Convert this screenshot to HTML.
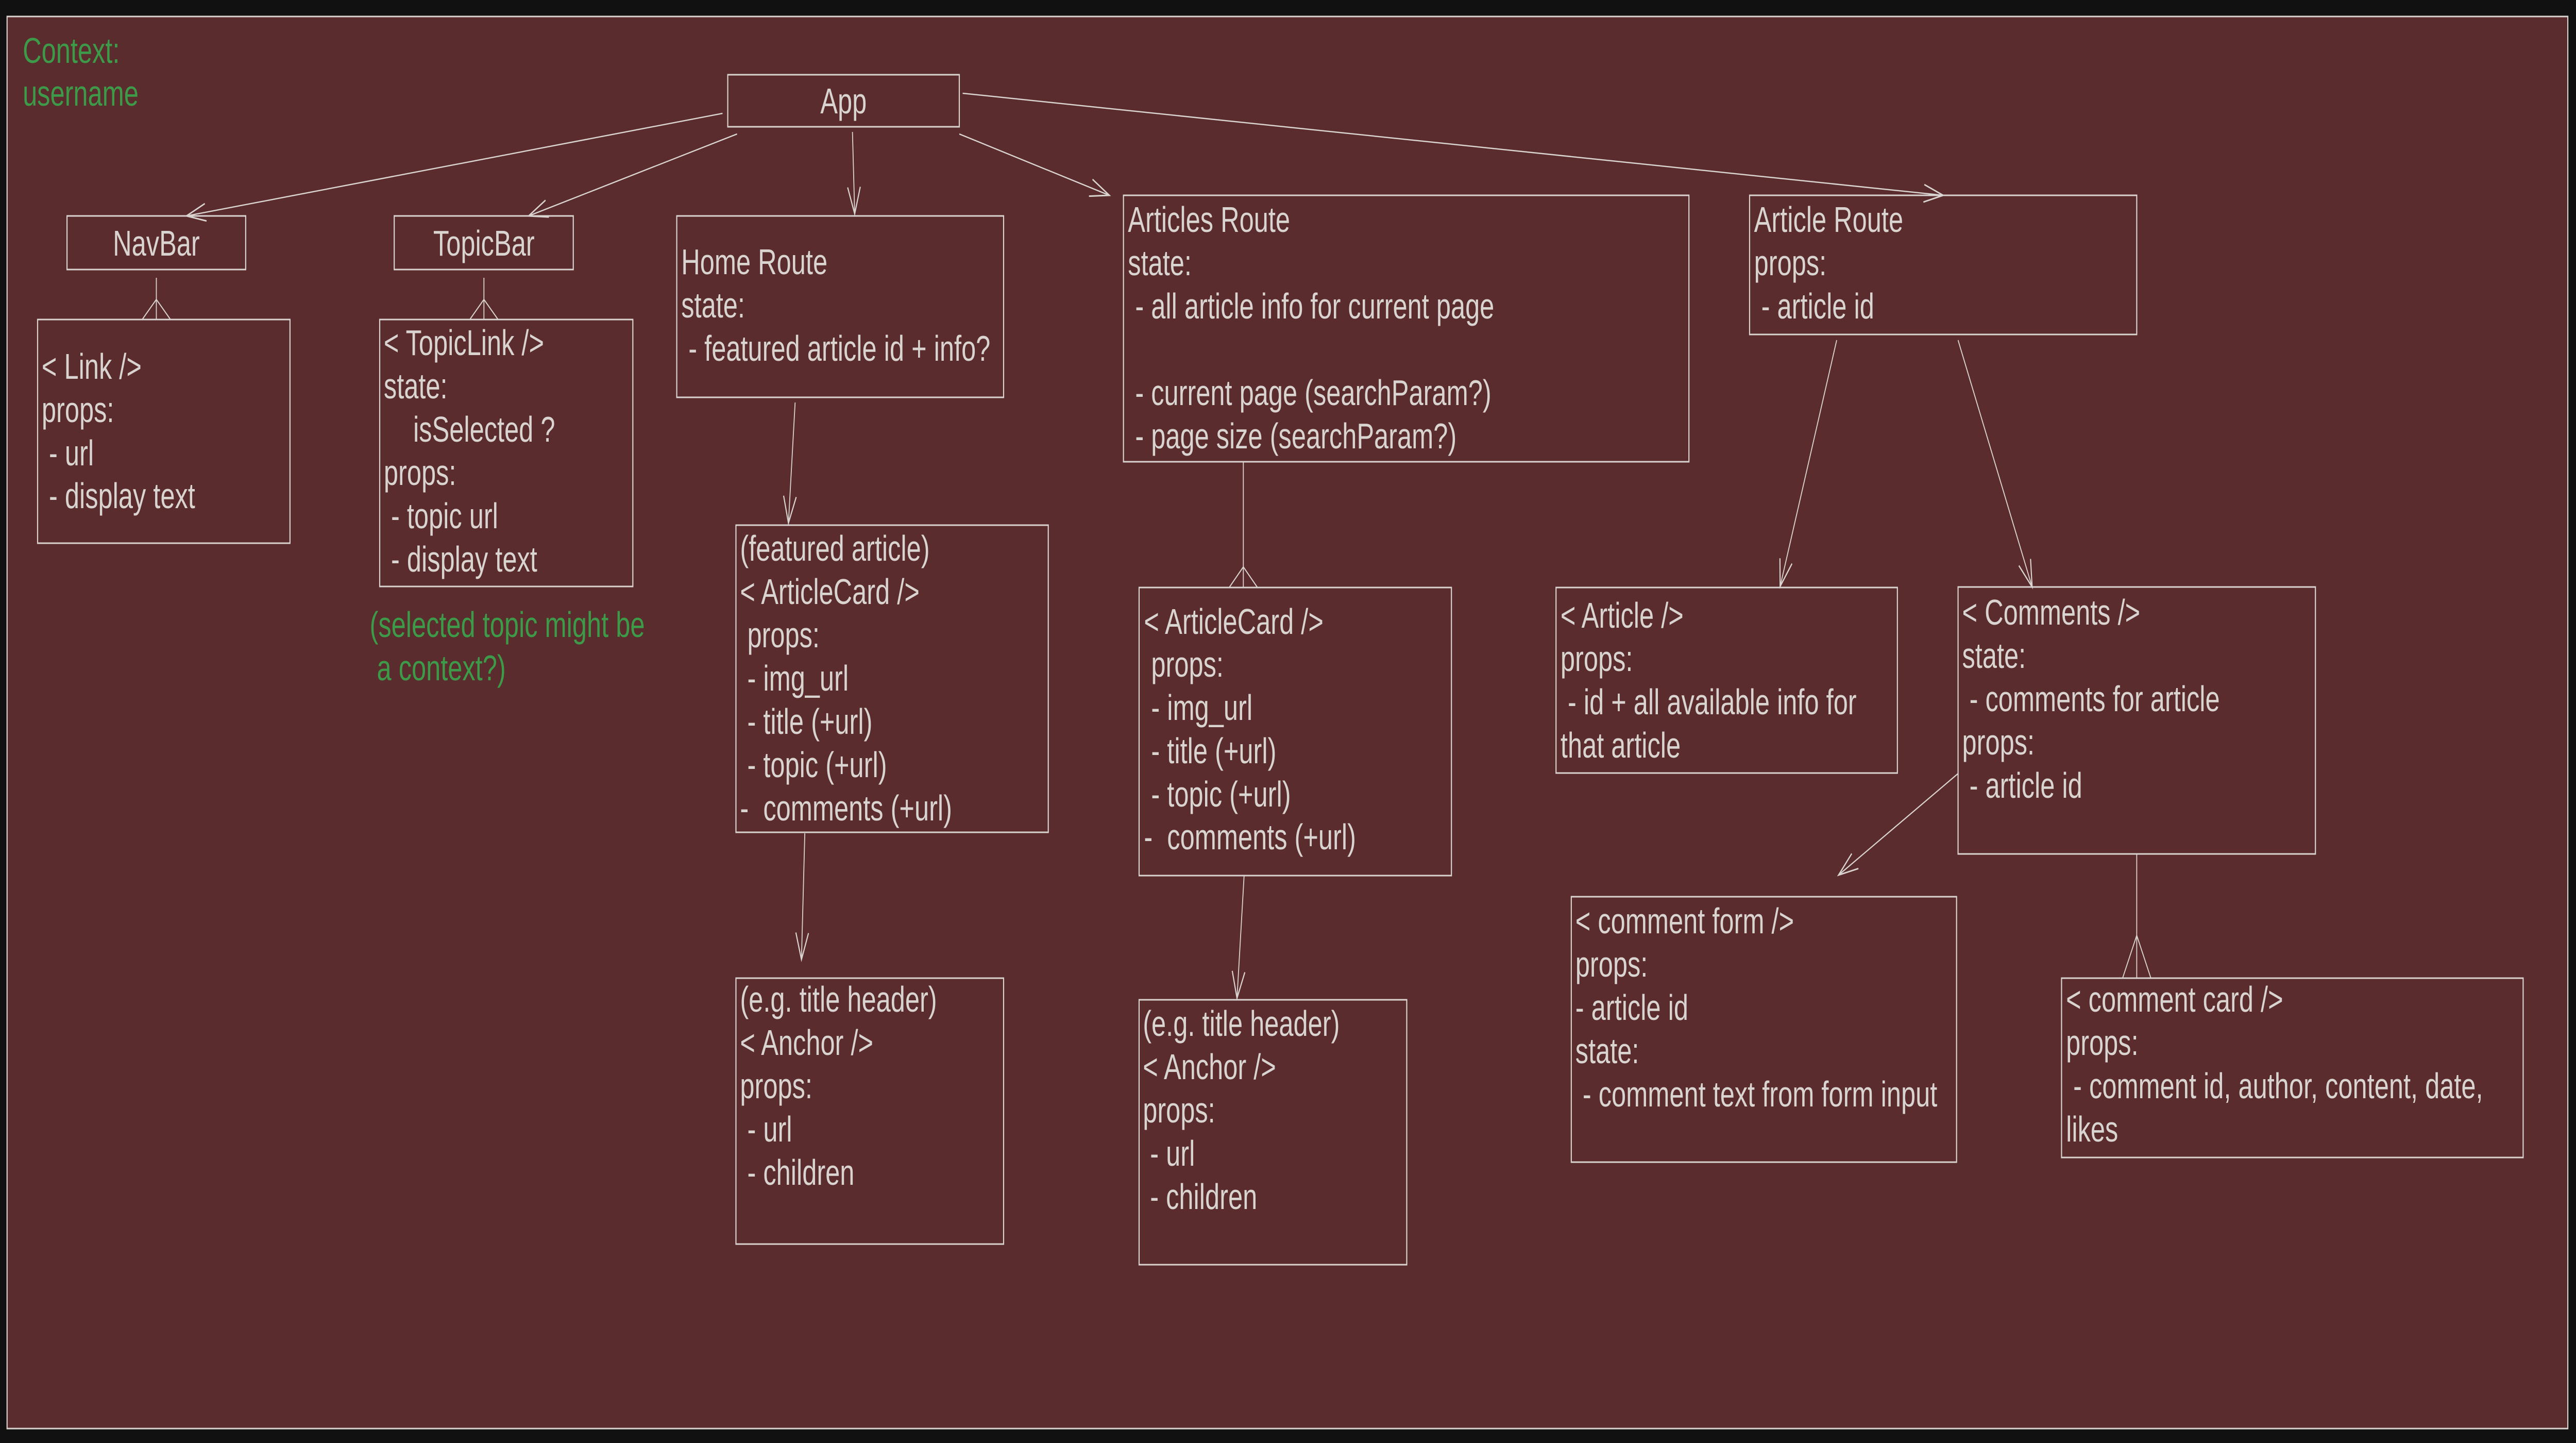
<!DOCTYPE html>
<html><head><meta charset="utf-8"><style>
html,body{margin:0;padding:0;background:#111111;width:100%;height:100%;overflow:hidden;}
svg{display:block;position:fixed;left:0;top:0;width:100vw;height:100vh;}
text{font-family:"Liberation Sans",Arial,sans-serif;font-size:70px;fill:#d9d4d0;white-space:pre;}
.g{fill:#3d9a48;}
</style></head><body>
<svg viewBox="0 0 6920 2800" preserveAspectRatio="none" xmlns="http://www.w3.org/2000/svg">
<defs>
<marker id="a" markerUnits="userSpaceOnUse" markerWidth="80" markerHeight="60" viewBox="-60 -30 80 60" refX="0" refY="0" orient="auto">
<path d="M-52,-17 L0,0 L-52,17" fill="none" stroke="#d9d4d0" stroke-width="3"/>
</marker>
</defs>
<rect x="0" y="0" width="6920" height="2800" fill="#111111"/>
<rect x="19" y="32" width="6879" height="2740" fill="#5a2c2d" stroke="#d9d4d0" stroke-width="3"/>
<g fill="none" stroke="#d9d4d0" stroke-width="3">
<rect x="1955" y="145" width="622" height="101"/>
<rect x="180" y="419" width="480" height="104"/>
<rect x="1059" y="419" width="481" height="104"/>
<rect x="101" y="620" width="678" height="434"/>
<rect x="1020" y="620" width="680" height="518"/>
<rect x="1818" y="419" width="878" height="352"/>
<rect x="3018" y="379" width="1519" height="517"/>
<rect x="4700" y="379" width="1040" height="270"/>
<rect x="1977" y="1019" width="839" height="596"/>
<rect x="3060" y="1140" width="839" height="559"/>
<rect x="1977" y="1898" width="719" height="516"/>
<rect x="3060" y="1940" width="719" height="514"/>
<rect x="4180" y="1140" width="917" height="360"/>
<rect x="5260" y="1139" width="960" height="518"/>
<rect x="4221" y="1740" width="1035" height="515"/>
<rect x="5538" y="1898" width="1240" height="348"/>
</g>
<g fill="none" stroke="#d9d4d0" stroke-width="2.5">
<line x1="1941" y1="220" x2="501" y2="419" marker-end="url(#a)"/>
<line x1="1980" y1="260" x2="1420" y2="419" marker-end="url(#a)"/>
<line x1="2290" y1="256" x2="2296" y2="415" marker-end="url(#a)"/>
<line x1="2577" y1="260" x2="2980" y2="379" marker-end="url(#a)"/>
<line x1="2586" y1="181" x2="5220" y2="379" marker-end="url(#a)"/>
<line x1="2136" y1="781" x2="2118" y2="1015" marker-end="url(#a)"/>
<line x1="2162" y1="1617" x2="2153" y2="1862" marker-end="url(#a)"/>
<line x1="3342" y1="1700" x2="3323" y2="1937" marker-end="url(#a)"/>
<line x1="4934" y1="660" x2="4782" y2="1138" marker-end="url(#a)"/>
<line x1="5260" y1="660" x2="5459" y2="1139" marker-end="url(#a)"/>
<line x1="5260" y1="1501" x2="4939" y2="1698" marker-end="url(#a)"/>
<path d="M420,539 V620 M382,620 L420,581 L458,620"/>
<path d="M1300,539 V620 M1262,620 L1300,581 L1338,620"/>
<path d="M3340,896 V1140 M3302,1140 L3340,1100 L3378,1140"/>
<path d="M5740,1657 V1898 M5702,1898 L5740,1815 L5778,1898"/>
</g>
<text class="g" x="61" y="122">Context:</text>
<text class="g" x="61" y="205">username</text>
<text x="2266" y="220" text-anchor="middle">App</text>
<text x="420" y="496" text-anchor="middle">NavBar</text>
<text x="1300" y="496" text-anchor="middle">TopicBar</text>
<text x="112" y="735">&lt; Link /&gt;</text>
<text x="112" y="819">props:</text>
<text x="112" y="903">&#160;- url</text>
<text x="112" y="986">&#160;- display text</text>
<text x="1031" y="689">&lt; TopicLink /&gt;</text>
<text x="1031" y="773">state:</text>
<text x="1110" y="857">isSelected ?</text>
<text x="1031" y="941">props:</text>
<text x="1031" y="1025">&#160;- topic url</text>
<text x="1031" y="1109">&#160;- display text</text>
<text class="g" x="993" y="1236">(selected topic might be</text>
<text class="g" x="993" y="1320">&#160;a context?)</text>
<text x="1830" y="532">Home Route</text>
<text x="1830" y="616">state:</text>
<text x="1830" y="700">&#160;- featured article id + info?</text>
<text x="3030" y="450">Articles Route</text>
<text x="3030" y="534">state:</text>
<text x="3030" y="618">&#160;- all article info for current page</text>
<text x="3030" y="786">&#160;- current page (searchParam?)</text>
<text x="3030" y="870">&#160;- page size (searchParam?)</text>
<text x="4712" y="450">Article Route</text>
<text x="4712" y="534">props:</text>
<text x="4712" y="618">&#160;- article id</text>
<text x="1988" y="1088">(featured article)</text>
<text x="1988" y="1172">&lt; ArticleCard /&gt;</text>
<text x="1988" y="1256">&#160;props:</text>
<text x="1988" y="1340">&#160;- img_url</text>
<text x="1988" y="1424">&#160;- title (+url)</text>
<text x="1988" y="1508">&#160;- topic (+url)</text>
<text x="1988" y="1592">-&#160;&#160;comments (+url)</text>
<text x="3073" y="1230">&lt; ArticleCard /&gt;</text>
<text x="3073" y="1313">&#160;props:</text>
<text x="3073" y="1397">&#160;- img_url</text>
<text x="3073" y="1481">&#160;- title (+url)</text>
<text x="3073" y="1565">&#160;- topic (+url)</text>
<text x="3073" y="1648">-&#160;&#160;comments (+url)</text>
<text x="1988" y="1963">(e.g. title header)</text>
<text x="1988" y="2047">&lt; Anchor /&gt;</text>
<text x="1988" y="2131">props:</text>
<text x="1988" y="2215">&#160;- url</text>
<text x="1988" y="2299">&#160;- children</text>
<text x="3070" y="2010">(e.g. title header)</text>
<text x="3070" y="2094">&lt; Anchor /&gt;</text>
<text x="3070" y="2178">props:</text>
<text x="3070" y="2262">&#160;- url</text>
<text x="3070" y="2346">&#160;- children</text>
<text x="4192" y="1218">&lt; Article /&gt;</text>
<text x="4192" y="1302">props:</text>
<text x="4192" y="1386">&#160;- id + all available info for</text>
<text x="4192" y="1470">that article</text>
<text x="5271" y="1212">&lt; Comments /&gt;</text>
<text x="5271" y="1296">state:</text>
<text x="5271" y="1380">&#160;- comments for article</text>
<text x="5271" y="1464">props:</text>
<text x="5271" y="1548">&#160;- article id</text>
<text x="4232" y="1811">&lt; comment form /&gt;</text>
<text x="4232" y="1895">props:</text>
<text x="4232" y="1979">- article id</text>
<text x="4232" y="2063">state:</text>
<text x="4232" y="2147">&#160;- comment text from form input</text>
<text x="5550" y="1963">&lt; comment card /&gt;</text>
<text x="5550" y="2047">props:</text>
<text x="5550" y="2131">&#160;- comment id, author, content, date,</text>
<text x="5550" y="2215">likes</text>
</svg>
</body></html>
